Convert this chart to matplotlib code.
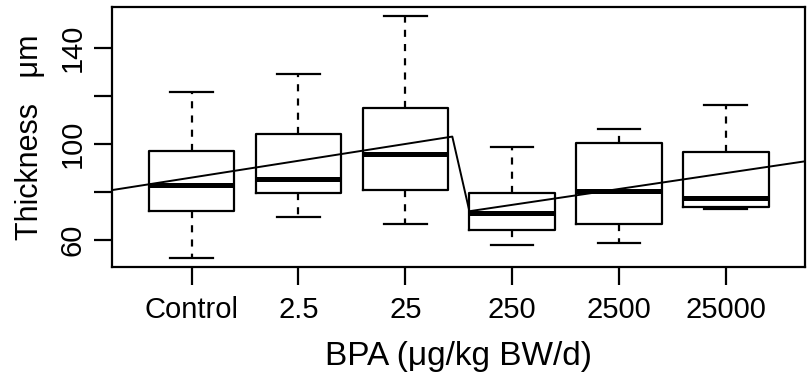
import matplotlib.pyplot as plt
from matplotlib import font_manager

# pick a narrow Helvetica-like face if present
names = {f.name for f in font_manager.fontManager.ttflist}
fam = [n for n in ['Liberation Sans Narrow', 'Liberation Sans', 'DejaVu Sans'] if n in names]
plt.rcParams['font.family'] = fam

# Data
groups = ['Control', '2.5', '25', '250', '2500', '25000']
whislo = [52.6, 69.4, 66.8, 57.8, 58.9, 72.9]
q1 = [72.0, 79.4, 81.0, 64.2, 66.8, 73.9]
med = [83.0, 85.4, 96.0, 71.1, 80.4, 77.5]
q3 = [97.0, 104.0, 115.1, 79.6, 100.3, 96.5]
whishi = [121.7, 129.2, 153.2, 98.9, 106.4, 116.4]

# fitted segmented trend line
trend_x = [0.254, 3.44, 3.6, 6.742]
trend_y = [80.8, 103.1, 72.0, 92.8]

fig = plt.figure(figsize=(8.09, 3.81), dpi=100)
ax = fig.add_axes([0.1384, 0.2992, 0.8567, 0.6824])

stats = []
for i in range(len(groups)):
    stats.append(dict(label=groups[i], whislo=whislo[i], q1=q1[i], med=med[i],
                      q3=q3[i], whishi=whishi[i], fliers=[]))

lw = 1.6
ax.bxp(stats, positions=range(1, 7), widths=0.8, capwidths=0.4,
       showfliers=False, patch_artist=False,
       boxprops=dict(color='black', linewidth=lw),
       whiskerprops=dict(color='black', linewidth=lw, linestyle=(0, (3.2, 3.2))),
       capprops=dict(color='black', linewidth=lw),
       medianprops=dict(color='black', linewidth=3.6, solid_capstyle='butt'))

ax.plot(trend_x, trend_y, color='black', linewidth=1.4)

ax.set_xlim(0.254, 6.742)
ax.set_ylim(48.75, 157.1)
ax.set_xticks(range(1, 7))
ax.set_xticklabels(groups, fontsize=21)
ax.set_yticks([60, 80, 100, 120, 140])
ax.set_yticklabels(['60', '', '100', '', '140'], fontsize=21, rotation=90, va='center')

for s in ax.spines.values():
    s.set_linewidth(1.6)
ax.tick_params(axis='both', length=13, width=1.6, direction='out')
ax.tick_params(axis='x', pad=8)
ax.tick_params(axis='y', pad=5)

ax.set_xlabel('BPA (\u03bcg/kg BW/d)', fontsize=24, labelpad=12)
ax.set_ylabel('Thickness   \u03bcm', fontsize=22, labelpad=10)

fig.savefig('out.png', dpi=100)
